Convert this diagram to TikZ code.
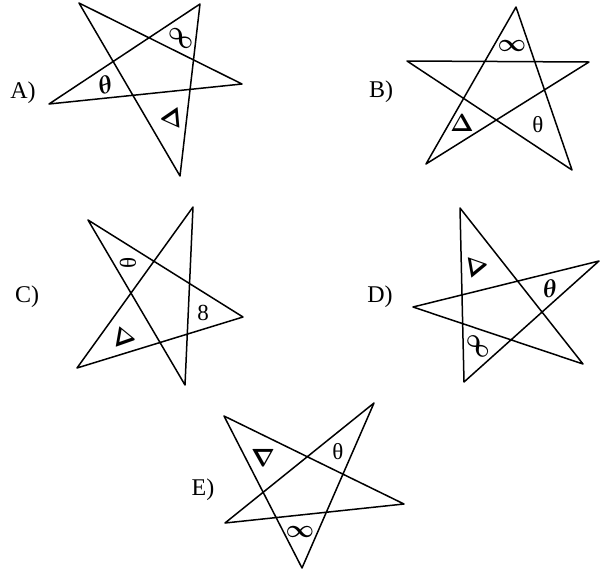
\documentclass[tikz,border=0pt]{standalone}
\usepackage{fontspec}
\setmainfont{Liberation Serif}
\begin{document}
\begin{tikzpicture}[x=1pt,y=-1pt,line width=1.5pt,line join=round,
  lab/.style={font=\fontsize{24}{26}\selectfont,inner sep=0pt},
  sym/.style={font=\fontsize{23}{26}\selectfont\boldmath,inner sep=0pt},
  txt/.style={font=\fontsize{23}{26}\selectfont,inner sep=0pt}]
\useasboundingbox (0,0) rectangle (600,571);
% Star A
\coordinate (a1) at (79,3); \coordinate (a2) at (200,4); \coordinate (a3) at (242,84);
\coordinate (a4) at (180,176); \coordinate (a5) at (49,104);
\draw (a1) -- (a3) -- (a5) -- (a2) -- (a4) -- cycle;
\node[lab] (la) at (23,93) {A)};
\node[sym,rotate=-40] (a-inf) at (181,38) {$\infty$};
\node[sym,rotate=20] (a-th) at (105,85) {$\theta$};
\node[sym,rotate=95] (a-de) at (170,119) {$\Delta$};
% Star B
\coordinate (b1) at (516,7); \coordinate (b2) at (589,62); \coordinate (b3) at (572,170);
\coordinate (b4) at (426,164); \coordinate (b5) at (407,61);
\draw (b1) -- (b3) -- (b5) -- (b2) -- (b4) -- cycle;
\node[lab] (lb) at (381,92) {B)};
\node[sym] (b-inf) at (512,46) {$\infty$};
\node[sym] (b-de) at (462,123) {$\Delta$};
\node[txt] (b-th) at (538,125) {θ};
% Star C
\coordinate (c1) at (88,220); \coordinate (c2) at (193,207); \coordinate (c3) at (243,317);
\coordinate (c4) at (185,385); \coordinate (c5) at (77,368);
\draw (c1) -- (c3) -- (c5) -- (c2) -- (c4) -- cycle;
\node[lab] (lc) at (27,297) {C)};
\node[txt,rotate=90] (c-th) at (128,263) {θ};
\node[txt] (c-8) at (203,313) {8};
\node[sym,rotate=-100] (c-de) at (126,338) {$\Delta$};
% Star D
\coordinate (d1) at (460,208); \coordinate (d2) at (599,261); \coordinate (d3) at (583,364);
\coordinate (d4) at (464,382); \coordinate (d5) at (413,307);
\draw (d1) -- (d3) -- (d5) -- (d2) -- (d4) -- cycle;
\node[lab] (ld) at (380,297) {D)};
\node[sym,rotate=-80] (d-de) at (478,266) {$\Delta$};
\node[sym,rotate=10] (d-th) at (550,289) {$\theta$};
\node[sym,rotate=-48] (d-inf) at (478,346) {$\infty$};
% Star E
\coordinate (e1) at (224,416); \coordinate (e2) at (374,403); \coordinate (e3) at (404,504);
\coordinate (e4) at (302,568); \coordinate (e5) at (225,523);
\draw (e1) -- (e3) -- (e5) -- (e2) -- (e4) -- cycle;
\node[lab] (le) at (203,490) {E)};
\node[sym] (e-na) at (263,458) {$\nabla$};
\node[txt] (e-th) at (338,452) {θ};
\node[sym] (e-inf) at (300,532) {$\infty$};
\end{tikzpicture}
\end{document}
